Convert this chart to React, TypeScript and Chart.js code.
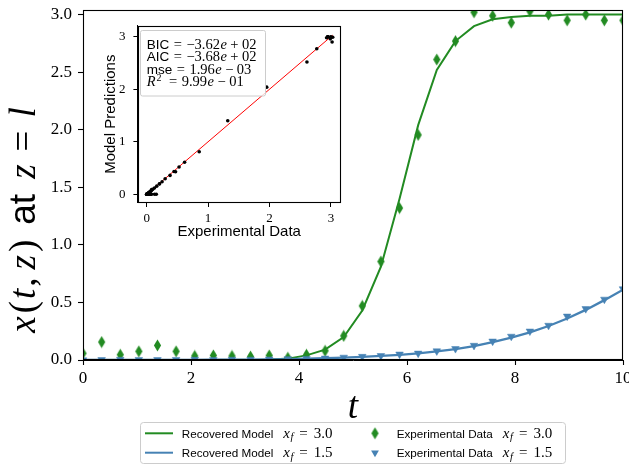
import React, { useEffect, useRef } from "react";
import { Chart, registerables } from "chart.js";
Chart.register(...registerables);

// ---------------- data ----------------
const tGrid = [0, 0.345, 0.69, 1.034, 1.379, 1.724, 2.069, 2.414, 2.759, 3.103, 3.448, 3.793, 4.138, 4.483, 4.828, 5.172, 5.517, 5.862, 6.207, 6.552, 6.897, 7.241, 7.586, 7.931, 8.276, 8.621, 8.966, 9.31, 9.655, 10];
const modelHigh = [0, 0, 0, 0, 0, 0, 0, 0, 0, 0, 0.002, 0.012, 0.04, 0.09, 0.2, 0.43, 0.81, 1.4, 2.04, 2.52, 2.77, 2.9, 2.96, 2.98, 2.99, 2.99, 3.0, 3.0, 3.0, 3.0];
const expHigh = [0.058, 0.156, 0.046, 0.075, 0.127, 0.075, 0.035, 0.04, 0.035, 0.03, 0.04, 0.02, 0.046, 0.08, 0.21, 0.47, 0.855, 1.32, 1.955, 2.61, 2.77, 3.02, 2.99, 2.93, 3.03, 3.0, 2.95, 3.0, 2.95, 2.95];
const modelLow = [0, 0, 0, 0, 0, 0, 0.001, 0.002, 0.003, 0.004, 0.006, 0.008, 0.011, 0.015, 0.02, 0.027, 0.035, 0.045, 0.058, 0.074, 0.094, 0.12, 0.155, 0.195, 0.24, 0.295, 0.36, 0.435, 0.52, 0.61];
const expLow = [0, 0.002, 0.004, 0.003, 0.002, 0.003, 0.004, 0.003, 0.005, 0.005, 0.007, 0.01, 0.012, 0.015, 0.023, 0.03, 0.037, 0.05, 0.058, 0.078, 0.098, 0.126, 0.163, 0.205, 0.25, 0.3, 0.38, 0.445, 0.527, 0.617];

const xTickStep = 2;
const yTickStep = 0.5;
const insetTickStep = 1;

const legendNames = ["Recovered Model", "Recovered Model", "Experimental Data", "Experimental Data"];
const legendXf = ["3.0", "1.5", "3.0", "1.5"];

const statNames = ["BIC", "AIC", "mse"];
const statMantissas = ["\u22123.62", "\u22123.68", "1.96", "9.99"];
const statExponents = ["+ 02", "+ 02", "\u2212 03", "\u2212 01"];

// ---------------- styles ----------------
const GREEN = "#228b22";
const BLUE = "#4682b4";
const SERIF = '"Liberation Serif", "DejaVu Serif", serif';
const SANS = '"Liberation Sans", "DejaVu Sans", sans-serif';

type Seg = { t: string; f: string; dy?: number; gap?: number };

function richWidth(ctx: CanvasRenderingContext2D, segs: Seg[]) {
  let w = 0;
  for (const s of segs) {
    ctx.font = s.f;
    w += (s.gap || 0) + ctx.measureText(s.t).width;
  }
  return w;
}

function drawRich(ctx: CanvasRenderingContext2D, segs: Seg[], x: number, y: number, align: "left" | "center" = "left") {
  ctx.textAlign = "left";
  ctx.textBaseline = "alphabetic";
  let cx = align === "center" ? x - richWidth(ctx, segs) / 2 : x;
  for (const s of segs) {
    ctx.font = s.f;
    cx += s.gap || 0;
    ctx.fillText(s.t, cx, y + (s.dy || 0));
    cx += ctx.measureText(s.t).width;
  }
}

function roundRect(ctx: CanvasRenderingContext2D, x: number, y: number, w: number, h: number, r: number) {
  ctx.beginPath();
  ctx.moveTo(x + r, y);
  ctx.lineTo(x + w - r, y);
  ctx.quadraticCurveTo(x + w, y, x + w, y + r);
  ctx.lineTo(x + w, y + h - r);
  ctx.quadraticCurveTo(x + w, y + h, x + w - r, y + h);
  ctx.lineTo(x + r, y + h);
  ctx.quadraticCurveTo(x, y + h, x, y + h - r);
  ctx.lineTo(x, y + r);
  ctx.quadraticCurveTo(x, y, x + r, y);
  ctx.closePath();
}

function makeDiamond(color: string) {
  const c = document.createElement("canvas");
  c.width = 9;
  c.height = 13;
  const g = c.getContext("2d")!;
  g.fillStyle = color;
  g.beginPath();
  g.moveTo(4.5, 0.6);
  g.lineTo(8.1, 6.5);
  g.lineTo(4.5, 12.4);
  g.lineTo(0.9, 6.5);
  g.closePath();
  g.fill();
  return c;
}

function drawTriangleDown(ctx: CanvasRenderingContext2D, x: number, y: number, r: number, color: string) {
  ctx.fillStyle = color;
  ctx.beginPath();
  ctx.moveTo(x - r * 0.866, y - r * 0.5);
  ctx.lineTo(x + r * 0.866, y - r * 0.5);
  ctx.lineTo(x, y + r);
  ctx.closePath();
  ctx.fill();
}

function strokeFrame(ctx: CanvasRenderingContext2D, a: any) {
  const l = Math.round(a.left) + 0.5;
  const t = Math.round(a.top) + 0.5;
  const r = Math.round(a.right) - 0.5;
  const b = Math.round(a.bottom) - 0.5;
  ctx.save();
  ctx.strokeStyle = "#000";
  ctx.lineWidth = 1.1;
  ctx.strokeRect(l, t, r - l, b - t);
  ctx.restore();
}

const pts = (ys: number[]) => tGrid.map((x, i) => ({ x, y: ys[i] }));

export default function App() {
  const mainRef = useRef<HTMLCanvasElement>(null);
  const insetRef = useRef<HTMLCanvasElement>(null);

  useEffect(() => {
    const diamond = makeDiamond(GREEN);

    const mainDecor = {
      id: "mainDecor",
      afterDatasetsDraw(chart: any) {
        strokeFrame(chart.ctx, chart.chartArea);
      },
      afterDraw(chart: any) {
        const ctx: CanvasRenderingContext2D = chart.ctx;
        const a = chart.chartArea;
        ctx.save();
        ctx.fillStyle = "#000";
        // y axis title
        const S = 37;
        const it = `italic ${S}px ${SERIF}`;
        const rm = `${S}px ${SERIF}`;
        const sa = `${S}px ${SANS}`;
        const ySegs: Seg[] = [
          { t: "x", f: it },
          { t: "(", f: rm, gap: 3 },
          { t: "t", f: it, gap: 2 },
          { t: ",", f: rm, gap: 2 },
          { t: "z", f: it, gap: 8 },
          { t: ")", f: rm, gap: 3 },
          { t: "at", f: sa, gap: 15 },
          { t: "z", f: it, gap: 15 },
          { t: "=", f: rm, gap: 13 },
          { t: "l", f: it, gap: 13 },
        ];
        ctx.save();
        ctx.translate(26, 220);
        ctx.rotate(-Math.PI / 2);
        drawRich(ctx, ySegs, 0, S * 0.25, "center");
        ctx.restore();
        // x axis title
        drawRich(ctx, [{ t: "t", f: it }], (a.left + a.right) / 2, 418, "center");

        // legend
        const bx = 140, by = 422, bw = 425, bh = 41;
        roundRect(ctx, bx + 0.5, by + 0.5, bw, bh, 3);
        ctx.fillStyle = "rgba(255,255,255,0.8)";
        ctx.fill();
        ctx.strokeStyle = "#cccccc";
        ctx.lineWidth = 1;
        ctx.stroke();
        const rows = [433.3, 452.7];
        const colors = [GREEN, BLUE, GREEN, BLUE];
        for (let i = 0; i < 4; i++) {
          const col = i < 2 ? 0 : 1;
          const ry = rows[i % 2];
          if (col === 0) {
            ctx.strokeStyle = colors[i];
            ctx.lineWidth = 2;
            ctx.beginPath();
            ctx.moveTo(145, ry);
            ctx.lineTo(173, ry);
            ctx.stroke();
          } else if (i === 2) {
            ctx.drawImage(diamond, 375 - diamond.width / 2, ry - diamond.height / 2);
          } else {
            drawTriangleDown(ctx, 375, ry, 4.5, BLUE);
          }
          ctx.fillStyle = "#000";
          const tx = col === 0 ? 181.7 : 396.7;
          drawRich(ctx, [
            { t: legendNames[i], f: `11.7px ${SANS}` },
            { t: "x", f: `italic 15px ${SERIF}`, gap: 10 },
            { t: "f", f: `italic 10.5px ${SERIF}`, dy: 2.5, gap: 0.5 },
            { t: "=", f: `15px ${SERIF}`, gap: 6 },
            { t: legendXf[i], f: `15px ${SERIF}`, gap: 6 },
          ], tx, ry + 4.5);
        }
        ctx.restore();
      },
    };

    const main = new Chart(mainRef.current!, {
      type: "scatter",
      data: {
        datasets: [
          { type: "line", data: pts(modelHigh), borderColor: GREEN, borderWidth: 2, pointRadius: 0, order: 3, clip: 0 } as any,
          { type: "line", data: pts(modelLow), borderColor: BLUE, borderWidth: 2.3, pointRadius: 0, order: 2, clip: 0 } as any,
          { type: "scatter", data: pts(expHigh), pointStyle: diamond, pointRadius: 5, order: 1, clip: 0 } as any,
          { type: "scatter", data: pts(expLow), pointStyle: "triangle", rotation: 180, pointRadius: 4.4, backgroundColor: BLUE, borderColor: BLUE, borderWidth: 0.5, order: 0, clip: 0 } as any,
        ],
      },
      options: {
        responsive: false,
        animation: false,
        devicePixelRatio: 1,
        events: [],
        layout: { padding: { left: 0, right: 6, top: 10, bottom: 0 } },
        plugins: { legend: { display: false }, tooltip: { enabled: false } },
        scales: {
          x: {
            type: "linear",
            min: 0,
            max: 10,
            ticks: { stepSize: xTickStep, includeBounds: false, maxRotation: 0, color: "#000", padding: 3, font: { family: SERIF, size: 17 }, callback: (v: any) => String(v) },
            grid: { drawOnChartArea: false, drawTicks: true, tickLength: 5, color: "#000", tickWidth: 1.1 },
            border: { display: true, color: "#000", width: 1 },
            afterFit: (s: any) => { s.height = 107; s.paddingLeft = 0; s.paddingRight = 0; },
          },
          y: {
            type: "linear",
            min: 0,
            max: 3.04,
            ticks: { stepSize: yTickStep, includeBounds: false, color: "#000", padding: 6, font: { family: SERIF, size: 17 }, callback: (v: any) => Number(v).toFixed(1) },
            grid: { drawOnChartArea: false, drawTicks: true, tickLength: 5, color: "#000", tickWidth: 1.1 },
            border: { display: true, color: "#000", width: 1 },
            afterFit: (s: any) => { s.width = 83; s.paddingTop = 0; s.paddingBottom = 0; },
          },
        },
      } as any,
      plugins: [mainDecor],
    });

    // ---------------- inset ----------------
    const allExp = expHigh.concat(expLow);
    const allModel = modelHigh.concat(modelLow);
    const pairs = allExp.map((e, i) => ({ x: e, y: allModel[i] }));
    const lo = Math.min(...allExp);
    const hi = Math.max(...allExp);

    const insetDecor = {
      id: "insetDecor",
      afterDatasetsDraw(chart: any) {
        const ctx: CanvasRenderingContext2D = chart.ctx;
        strokeFrame(ctx, chart.chartArea);
        ctx.save();
        roundRect(ctx, 50.5, 14.5, 125, 65.5, 2);
        ctx.fillStyle = "rgba(255,255,255,0.8)";
        ctx.fill();
        ctx.strokeStyle = "#cccccc";
        ctx.lineWidth = 1;
        ctx.stroke();
        ctx.fillStyle = "#000";
        const base = [32.5, 45, 57.5, 70];
        const rm = `14.5px ${SERIF}`;
        const it = `italic 14.5px ${SERIF}`;
        for (let i = 0; i < 4; i++) {
          const head: Seg[] = i < 3
            ? [{ t: statNames[i], f: `13.5px ${SANS}` }]
            : [{ t: "R", f: it }, { t: "2", f: `10px ${SERIF}`, dy: -5.5, gap: 1 }, { t: "", f: rm, gap: 3 }];
          drawRich(ctx, head.concat([
            { t: "=", f: rm, gap: 4.5 },
            { t: statMantissas[i], f: rm, gap: 4.5 },
            { t: "e", f: it, gap: 0.5 },
            { t: statExponents[i].slice(0, 1), f: rm, gap: 3.5 },
            { t: statExponents[i].slice(2), f: rm, gap: 3.5 },
          ]), 56.7, base[i]);
        }
        ctx.restore();
      },
      afterDraw(chart: any) {
        const ctx: CanvasRenderingContext2D = chart.ctx;
        const a = chart.chartArea;
        ctx.save();
        ctx.fillStyle = "#000";
        ctx.font = `15px ${SANS}`;
        ctx.textAlign = "center";
        ctx.textBaseline = "middle";
        ctx.fillText("Experimental Data", (a.left + a.right) / 2, 215.7);
        ctx.translate(20.7, (a.top + a.bottom) / 2);
        ctx.rotate(-Math.PI / 2);
        ctx.fillText("Model Predictions", 0, 0);
        ctx.restore();
      },
    };

    const inset = new Chart(insetRef.current!, {
      type: "scatter",
      data: {
        datasets: [
          { type: "line", data: [{ x: lo, y: lo }, { x: hi, y: hi }], borderColor: "#ff0000", borderWidth: 1, pointRadius: 0, order: 1 } as any,
          { type: "scatter", data: pairs, backgroundColor: "#000", borderWidth: 0, pointRadius: 1.8, order: 0 } as any,
        ],
      },
      options: {
        responsive: false,
        animation: false,
        devicePixelRatio: 1,
        events: [],
        layout: { padding: { left: 0, right: 14.3, top: 9.7, bottom: 0 } },
        plugins: { legend: { display: false }, tooltip: { enabled: false } },
        scales: {
          x: {
            type: "linear",
            min: -0.147,
            max: 3.16,
            ticks: { stepSize: insetTickStep, includeBounds: false, maxRotation: 0, color: "#000", padding: 4, font: { family: SERIF, size: 13 }, callback: (v: any) => String(v) },
            grid: { drawOnChartArea: false, drawTicks: true, tickLength: 4.3, color: "#000" },
            border: { display: true, color: "#000", width: 1 },
            afterFit: (s: any) => { s.height = 43.3; s.paddingLeft = 0; s.paddingRight = 0; },
          },
          y: {
            type: "linear",
            min: -0.16,
            max: 3.21,
            ticks: { stepSize: insetTickStep, includeBounds: false, color: "#000", padding: 8, font: { family: SERIF, size: 13 }, callback: (v: any) => String(v) },
            grid: { drawOnChartArea: false, drawTicks: true, tickLength: 4.3, color: "#000" },
            border: { display: true, color: "#000", width: 1 },
            afterFit: (s: any) => { s.width = 47.7; s.paddingTop = 0; s.paddingBottom = 0; },
          },
        },
      } as any,
      plugins: [insetDecor],
    });

    return () => {
      main.destroy();
      inset.destroy();
    };
  }, []);

  return (
    <div style={{ position: "absolute", left: 0, top: 0, width: 629, height: 467, background: "#fff" }}>
      <canvas ref={mainRef} width={629} height={467} style={{ position: "absolute", left: 0, top: 0 }} />
      <canvas ref={insetRef} width={265} height={230} style={{ position: "absolute", left: 90, top: 16 }} />
    </div>
  );
}
